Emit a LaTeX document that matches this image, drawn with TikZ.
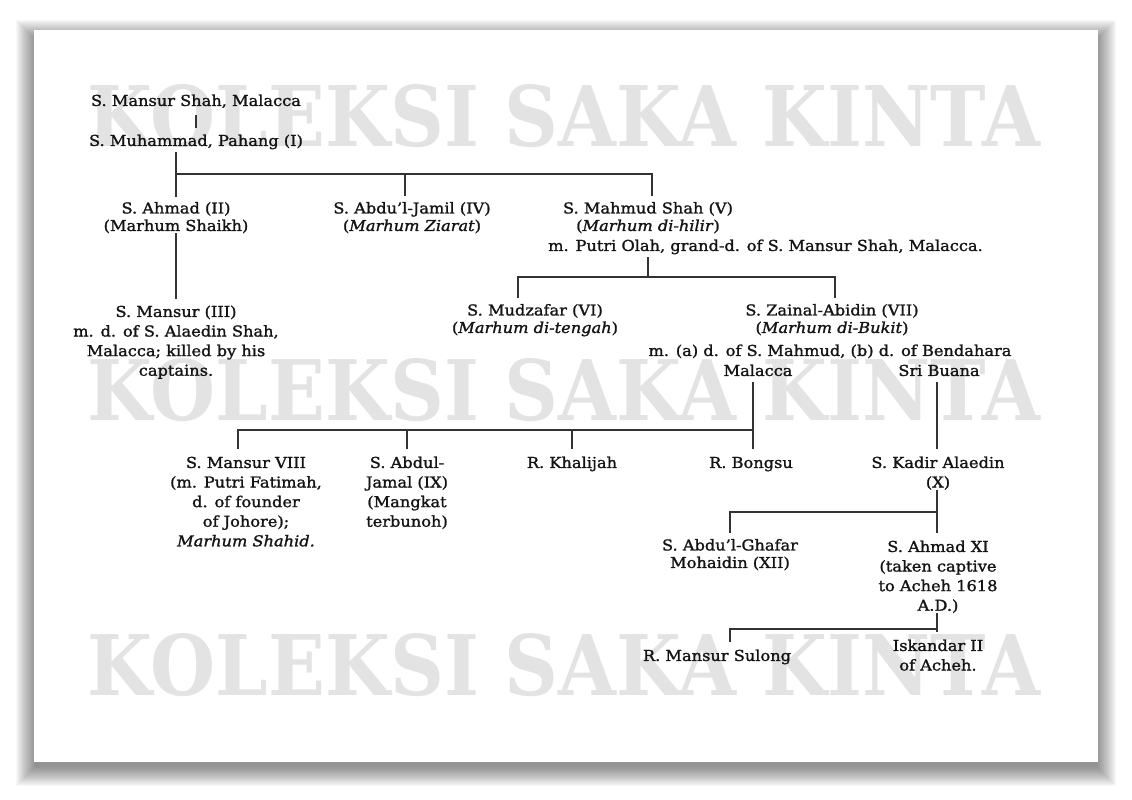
\documentclass[tikz,border=0pt]{standalone}
\usepackage{graphicx}
\usepackage{fontspec}
\setmainfont{DejaVu Serif}[FakeStretch=1.08, FakeBold=1.4]
\newfontfamily\wmfont{DejaVu Serif}
\begin{document}
\begin{tikzpicture}[x=1pt,y=-1pt,
  every node/.style={text=black!92},
  lin/.style={draw=black!80, line width=1.4pt},
  pn/.style={align=center, inner sep=0pt, anchor=north, font=\fontsize{15}{19.6}\selectfont},
  pt/.style={pn, font=\fontsize{15}{17.5}\selectfont},
  wm/.style={inner sep=0pt, text=black!11, font=\wmfont\bfseries}]
\useasboundingbox (0,0) rectangle (1132,800);
% shadow
\foreach \i in {1,...,20}{
  \fill[black, opacity=0.028] ({36-\i},{40-\i}) rectangle ({1096+\i},{766+\i});
}
\fill[white] (34,30) rectangle (1098,762);
% watermark
\node[wm] (wm1) at (564,116) {\resizebox{952pt}{62pt}{KOLEKSI SAKA KINTA}};
\node[wm] (wm2) at (564,390) {\resizebox{952pt}{62pt}{KOLEKSI SAKA KINTA}};
\node[wm] (wm3) at (564,665) {\resizebox{952pt}{62pt}{KOLEKSI SAKA KINTA}};
% people
\node[pn] (ms)   at (196,92)  {\strut S. Mansur Shah, Malacca};
\node[pn] (muh)  at (196,132) {\strut S. Muhammad, Pahang (I)};
\node[pt] (ahm)  at (176,201) {\strut S. Ahmad (II)\\(Marhum Shaikh)};
\node[pt] (abj)  at (412,201) {\strut S. Abdu'l-Jamil (IV)\\(\textit{Marhum Ziarat})};
\node[pt] (mah)  at (648,201) {\strut S. Mahmud Shah (V)\\(\textit{Marhum di-hilir})};
\node[pn, anchor=north west] (mahm) at (548,237) {\strut m. Putri Olah, grand-d. of S. Mansur Shah, Malacca.};
\node[pn] (man3) at (176,303) {\strut S. Mansur (III)\\m. d. of S. Alaedin Shah,\\Malacca; killed by his\\captains.};
\node[pt] (mud)  at (535,303) {\strut S. Mudzafar (VI)\\(\textit{Marhum di-tengah})};
\node[pt] (zai)  at (832,303) {\strut S. Zainal-Abidin (VII)\\(\textit{Marhum di-Bukit})};
\node[pn] (zaim) at (830,342) {\strut m. (a) d. of S. Mahmud, (b) d. of Bendahara};
\node[pn] (zma)  at (758,362) {\strut Malacca};
\node[pn] (zsb)  at (939,362) {\strut Sri Buana};
\node[pn] (m8)   at (246,454) {\strut S. Mansur VIII\\(m. Putri Fatimah,\\d. of founder\\of Johore);\\\textit{Marhum Shahid.}};
\node[pn] (a9)   at (407,454) {\strut S. Abdul-\\Jamal (IX)\\(Mangkat\\terbunoh)};
\node[pn] (kha)  at (572,454) {\strut R. Khalijah};
\node[pn] (bon)  at (751,454) {\strut R. Bongsu};
\node[pn] (kad)  at (938,454) {\strut S. Kadir Alaedin\\(X)};
\node[pt] (agh)  at (730,538) {\strut S. Abdu'l-Ghafar\\Mohaidin (XII)};
\node[pn] (a11)  at (938,538) {\strut S. Ahmad XI\\(taken captive\\to Acheh 1618\\A.D.)};
\node[pn] (rms)  at (717,647) {\strut R. Mansur Sulong};
\node[pn] (isk)  at (938,637) {\strut Iskandar II\\of Acheh.};
% junction coordinates
\coordinate (bus1) at (652,174);
\coordinate (bus2) at (648,277);
\coordinate (bus2l) at (518,277);
\coordinate (bus2r) at (835,277);
\coordinate (bus3l) at (238,430);
\coordinate (bus3r) at (753,430);
\coordinate (bus4) at (937,512);
\coordinate (bus5) at (937,629);
\coordinate (bus5l) at (730,629);
% connectors
\draw[lin, shorten <=3pt, shorten >=4pt] (ms.south) -- (muh.north);
\draw[lin, shorten >=4pt] (muh.south -| ahm.north) -- (ahm.north);
\draw[lin, shorten >=5pt] (ahm.north |- bus1) -| (mah.north -| bus1);
\draw[lin, shorten >=5pt] ([xshift=-7pt]abj.north |- bus1) -- ([xshift=-7pt]abj.north);
\draw[lin, shorten >=4pt] (ahm.south) -- (man3.north);
\draw[lin] (bus2 |- mahm.south) -- (bus2);
\draw[lin, shorten <=5pt, shorten >=5pt] (bus2l |- mud.north) -- (bus2l) -- (bus2r) -- (bus2r |- zai.north);
\draw[lin, shorten >=5pt] (zma.south -| bus3r) -- (bus3r |- bon.north);
\draw[lin, shorten <=5pt] (bus3l |- m8.north) -- (bus3l) -- (bus3r);
\draw[lin, shorten >=5pt] (a9.north |- bus3l) -- (a9.north);
\draw[lin, shorten >=5pt] (kha.north |- bus3l) -- (kha.north);
\draw[lin, shorten >=5pt] (zsb.south -| bus4) -- (kad.north -| bus4);
\draw[lin, shorten >=5pt] (kad.south -| bus4) -- (a11.north -| bus4);
\draw[lin, shorten >=5pt] (bus4) -| (agh.north);
\draw[lin, shorten >=5pt] (a11.south -| bus5) -- (isk.north -| bus5);
\draw[lin, shorten >=5pt] (bus5) -- (bus5l) -- (bus5l |- rms.north);
\end{tikzpicture}
\end{document}
